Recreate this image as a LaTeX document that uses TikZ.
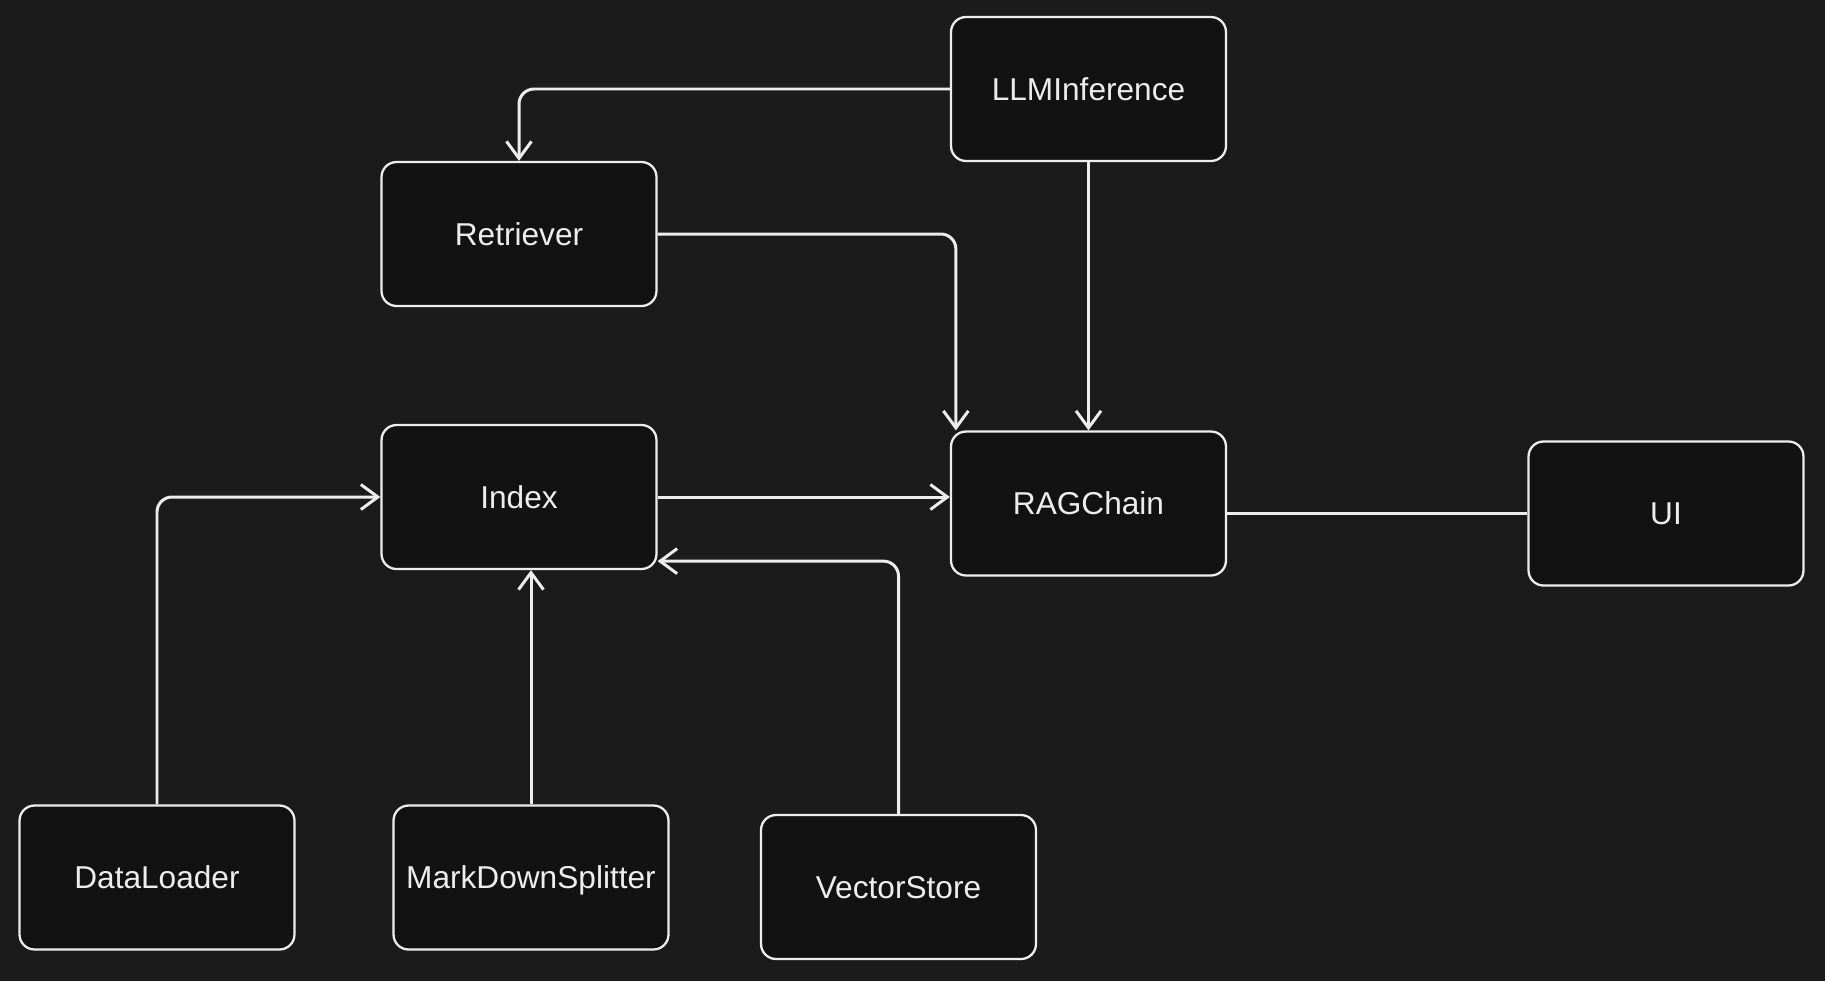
\documentclass[tikz,border=0pt]{standalone}
\usepackage{fontspec}
\setmainfont{Liberation Sans}
\usetikzlibrary{arrows.meta}
\definecolor{bg}{HTML}{1B1B1B}
\definecolor{boxbg}{HTML}{121212}
\definecolor{fg}{HTML}{EDEDED}
\tikzset{
    box/.style={draw=fg, fill=boxbg, text=fg, line width=1.3pt, rounded corners=0.3cm,
        minimum width=5.5cm, minimum height=2.88cm, text height=13pt, text depth=0pt,
        font=\fontsize{18}{22}\selectfont},
    link/.style={draw=fg, line width=1.7pt, rounded corners=0.3cm},
    arr/.style={link, -{Straight Barb[length=3.4mm, width=5mm, line width=1.7pt]}}
}
\begin{document}
\begin{tikzpicture}[x=0.02cm, y=-0.02cm]
        \fill[bg] (0,0) rectangle (1825,981);
        \node[box] (llm) at (1088.5,89) {LLMInference};
        \node[box] (ret) at (519,234) {Retriever};
        \node[box] (idx) at (519,497) {Index};
        \node[box] (rag) at (1088.5,503.5) {RAGChain};
        \node[box] (ui) at (1666,513.5) {UI};
        \node[box] (dl) at (157,877.5) {DataLoader};
        \node[box] (mds) at (531,877.5) {MarkDownSplitter};
        \node[box] (vs) at (898.5,887) {VectorStore};
        \draw[arr] (llm.west) -| (ret.north);
        \draw[arr] (ret.east) -| ([xshift=0.12cm]rag.north west);
        \draw[arr] (llm.south) -- (rag.north);
        \draw[arr] (idx.east) -- (rag.west |- idx.east);
        \draw[link] (rag.east |- ui.west) -- (ui.west);
        \draw[arr] (dl.north) |- (idx.west);
        \draw[arr] (mds.north) -- (mds.north |- idx.south);
        \draw[arr] (vs.north) |- ([yshift=0.18cm]idx.south east);
    \end{tikzpicture}
\end{document}
